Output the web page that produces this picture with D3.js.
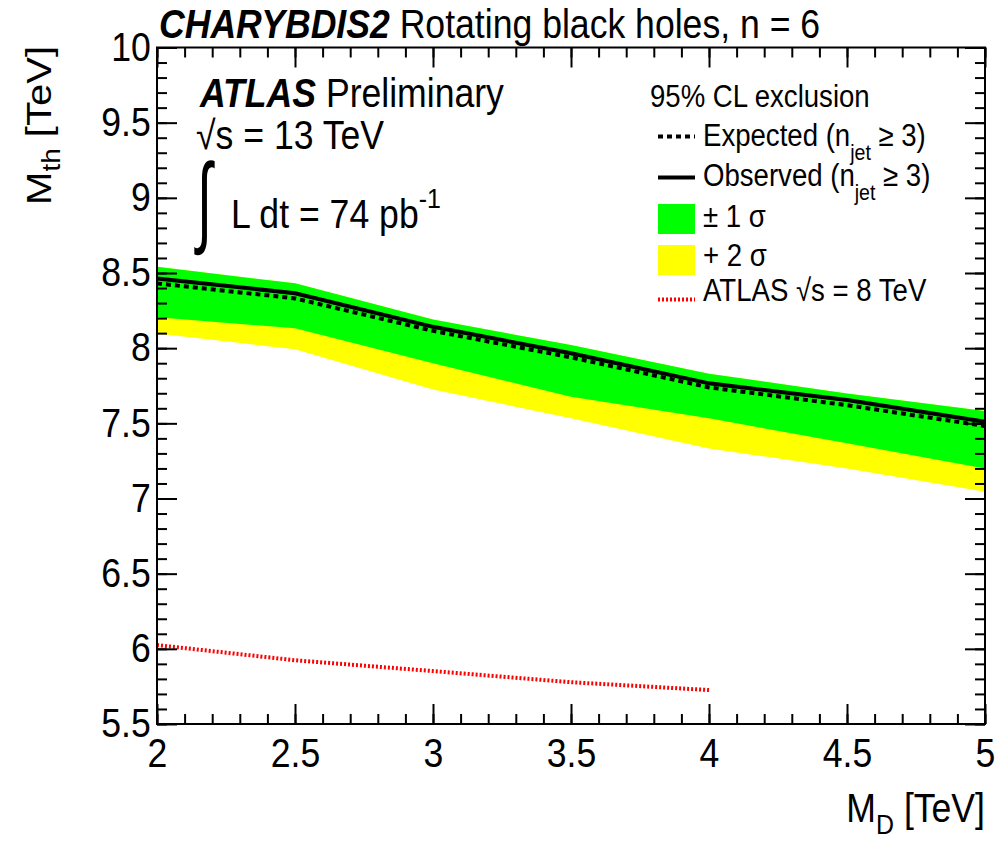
<!DOCTYPE html>
<html>
<head>
<meta charset="utf-8">
<script src="https://cdn.jsdelivr.net/npm/d3@7"></script>
<style>
  html, body { margin: 0; padding: 0; background: #fff; }
  svg { display: block; }
</style>
</head>
<body>
<script>
// Black-hole mass threshold limits vs. M_D (CHARYBDIS2, rotating, n = 6)
const md = [2, 2.5, 3, 3.5, 4, 4.5, 5];
const observed   = [8.464, 8.365, 8.142, 7.966, 7.766, 7.655, 7.510];
const expected   = [8.431, 8.331, 8.115, 7.939, 7.739, 7.621, 7.482];
const sigma1Up   = [8.542, 8.431, 8.190, 8.021, 7.830, 7.699, 7.582];
const sigma1Down = [8.205, 8.132, 7.899, 7.677, 7.533, 7.367, 7.200];
const sigma2Down = [8.098, 7.992, 7.725, 7.533, 7.333, 7.200, 7.045];

// Previous 8 TeV result
const md8 = [2, 2.5, 3, 3.5, 4];
const limit8 = [6.025, 5.924, 5.852, 5.778, 5.726];

const xTicks = [2, 2.5, 3, 3.5, 4, 4.5, 5];
const yTicks = [5.5, 6, 6.5, 7, 7.5, 8, 8.5, 9, 9.5, 10];
const xMinor = d3.range(20, 51).map(v => v / 10);
const yMinor = d3.range(55, 101).map(v => v / 10);

const W = 997, H = 842;
const FONT = "'Liberation Sans', Arial, Helvetica, sans-serif";
const SX = 0.89; // narrow glyph width

const svg = d3.select("body").append("svg")
  .attr("width", W).attr("height", H)
  .style("font-family", FONT);
svg.append("rect").attr("width", W).attr("height", H).attr("fill", "#fff");

const x = d3.scaleLinear().domain([2, 5]).range([157, 985]);
const y = d3.scaleLinear().domain([5.5, 10]).range([724, 47.5]);

const rows = md.map((m, i) => ({
  md: m, obs: observed[i], exp: expected[i],
  u1: sigma1Up[i], d1: sigma1Down[i], d2: sigma2Down[i]
}));

// Bands
const plot = svg.append("g");
plot.append("path").datum(rows)
  .attr("fill", "#ffff00")
  .attr("d", d3.area().x(d => x(d.md)).y0(d => y(d.d2)).y1(d => y(d.u1)));
plot.append("path").datum(rows)
  .attr("fill", "#00ff00")
  .attr("d", d3.area().x(d => x(d.md)).y0(d => y(d.d1)).y1(d => y(d.u1)));

// Expected and observed limits
plot.append("path").datum(rows)
  .attr("fill", "none").attr("stroke", "#000").attr("stroke-width", 4)
  .attr("stroke-dasharray", "5,4")
  .attr("d", d3.line().x(d => x(d.md)).y(d => y(d.exp)));
plot.append("path").datum(rows)
  .attr("fill", "none").attr("stroke", "#000").attr("stroke-width", 4)
  .attr("d", d3.line().x(d => x(d.md)).y(d => y(d.obs)));

// 8 TeV limit
plot.append("path").datum(md8.map((m, i) => [m, limit8[i]]))
  .attr("fill", "none").attr("stroke", "#ff0000").attr("stroke-width", 4)
  .attr("stroke-dasharray", "2,2")
  .attr("d", d3.line().x(d => x(d[0])).y(d => y(d[1])));

// Axes: ticks on all four sides, pointing inward
function styleAxis(g) {
  g.select(".domain").remove();
  g.selectAll(".tick line").attr("stroke", "#000").attr("stroke-width", 2);
}
const yBottom = y(5.5), yTop = y(10), xLeft = x(2), xRight = x(5);

svg.append("g").attr("transform", `translate(0,${yBottom})`)
  .call(d3.axisBottom(x).tickValues(xMinor).tickSize(-10).tickFormat(""))
  .call(styleAxis);
const gx = svg.append("g").attr("transform", `translate(0,${yBottom})`)
  .call(d3.axisBottom(x).tickValues(xTicks).tickSize(-20).tickPadding(15)
    .tickFormat(d3.format("")))
  .call(styleAxis);
svg.append("g").attr("transform", `translate(0,${yTop})`)
  .call(d3.axisTop(x).tickValues(xMinor).tickSize(-10).tickFormat(""))
  .call(styleAxis);
svg.append("g").attr("transform", `translate(0,${yTop})`)
  .call(d3.axisTop(x).tickValues(xTicks).tickSize(-20).tickFormat(""))
  .call(styleAxis);

svg.append("g").attr("transform", `translate(${xLeft},0)`)
  .call(d3.axisLeft(y).tickValues(yMinor).tickSize(-10).tickFormat(""))
  .call(styleAxis);
const gy = svg.append("g").attr("transform", `translate(${xLeft},0)`)
  .call(d3.axisLeft(y).tickValues(yTicks).tickSize(-20).tickPadding(7)
    .tickFormat(d3.format("")))
  .call(styleAxis);
svg.append("g").attr("transform", `translate(${xRight},0)`)
  .call(d3.axisRight(y).tickValues(yMinor).tickSize(-10).tickFormat(""))
  .call(styleAxis);
svg.append("g").attr("transform", `translate(${xRight},0)`)
  .call(d3.axisRight(y).tickValues(yTicks).tickSize(-20).tickFormat(""))
  .call(styleAxis);

[gx, gy].forEach(g => g.selectAll(".tick text")
  .attr("fill", "#000").style("font-family", FONT).style("font-size", "40px")
  .attr("transform", `scale(${SX},1)`));

// Frame
svg.append("rect")
  .attr("x", xLeft).attr("y", yTop)
  .attr("width", xRight - xLeft).attr("height", yBottom - yTop)
  .attr("fill", "none").attr("stroke", "#000").attr("stroke-width", 2);

// Text helper: narrow text placed at (tx, ty); extra = trailing transform
function label(tx, ty, size, anchor, extra) {
  return svg.append("text")
    .attr("transform", `translate(${tx},${ty})` + (extra || ` scale(${SX},1)`))
    .attr("text-anchor", anchor || "start")
    .style("font-size", size + "px").attr("fill", "#000");
}

// Title
const title = label(159, 38, 40);
title.append("tspan").style("font-weight", "bold").style("font-style", "italic").text("CHARYBDIS2");
title.append("tspan").text(" Rotating black holes, n = 6");

// Axis titles
const xt = label(985, 822, 40, "end");
xt.append("tspan").text("M");
xt.append("tspan").attr("dy", 12).style("font-size", "28px").text("D");
xt.append("tspan").attr("dy", -12).text(" [TeV]");

const yt = label(51, 46, 40, "end", ` rotate(-90) scale(1,${SX})`);
yt.append("tspan").text("M");
yt.append("tspan").attr("dy", 10).style("font-size", "28px").text("th");
yt.append("tspan").attr("dy", -10).text(" [TeV]");

// ATLAS label block
const atl = label(200, 107, 40);
atl.append("tspan").style("font-weight", "bold").style("font-style", "italic").text("ATLAS");
atl.append("tspan").text(" Preliminary");
label(196, 149, 40).text("√s = 13 TeV");
label(197, 234, 100, "start", " scale(0.55,1)").text("∫");
const lumi = label(231, 228, 40);
lumi.append("tspan").text("L dt = 74 pb");
lumi.append("tspan").attr("dy", -20).style("font-size", "28px").text("-1");

// Legend
label(650, 107, 31).text("95% CL exclusion");
const lx0 = 658, lx1 = 695, ltx = 703;
svg.append("line").attr("x1", lx0).attr("x2", lx1).attr("y1", 136.5).attr("y2", 136.5)
  .attr("stroke", "#000").attr("stroke-width", 4).attr("stroke-dasharray", "5,4");
svg.append("line").attr("x1", lx0).attr("x2", lx1).attr("y1", 177.5).attr("y2", 177.5)
  .attr("stroke", "#000").attr("stroke-width", 4);
svg.append("rect").attr("x", lx0).attr("y", 204).attr("width", lx1 - lx0).attr("height", 30)
  .attr("fill", "#00ff00");
svg.append("rect").attr("x", lx0).attr("y", 245).attr("width", lx1 - lx0).attr("height", 30)
  .attr("fill", "#ffff00");
svg.append("line").attr("x1", lx0).attr("x2", lx1).attr("y1", 299.5).attr("y2", 299.5)
  .attr("stroke", "#ff0000").attr("stroke-width", 4).attr("stroke-dasharray", "2,2");

function jetEntry(ty, word) {
  const t = label(ltx, ty, 31);
  t.append("tspan").text(word + " (n");
  t.append("tspan").attr("dy", 14).style("font-size", "22px").text("jet");
  t.append("tspan").attr("dy", -14).text(" ≥ 3)");
}
jetEntry(146, "Expected");
jetEntry(186, "Observed");
label(ltx, 227, 31).text("± 1 σ");
label(ltx, 266, 31).text("+ 2 σ");
label(ltx, 301, 31).text("ATLAS √s = 8 TeV");
</script>
</body>
</html>
